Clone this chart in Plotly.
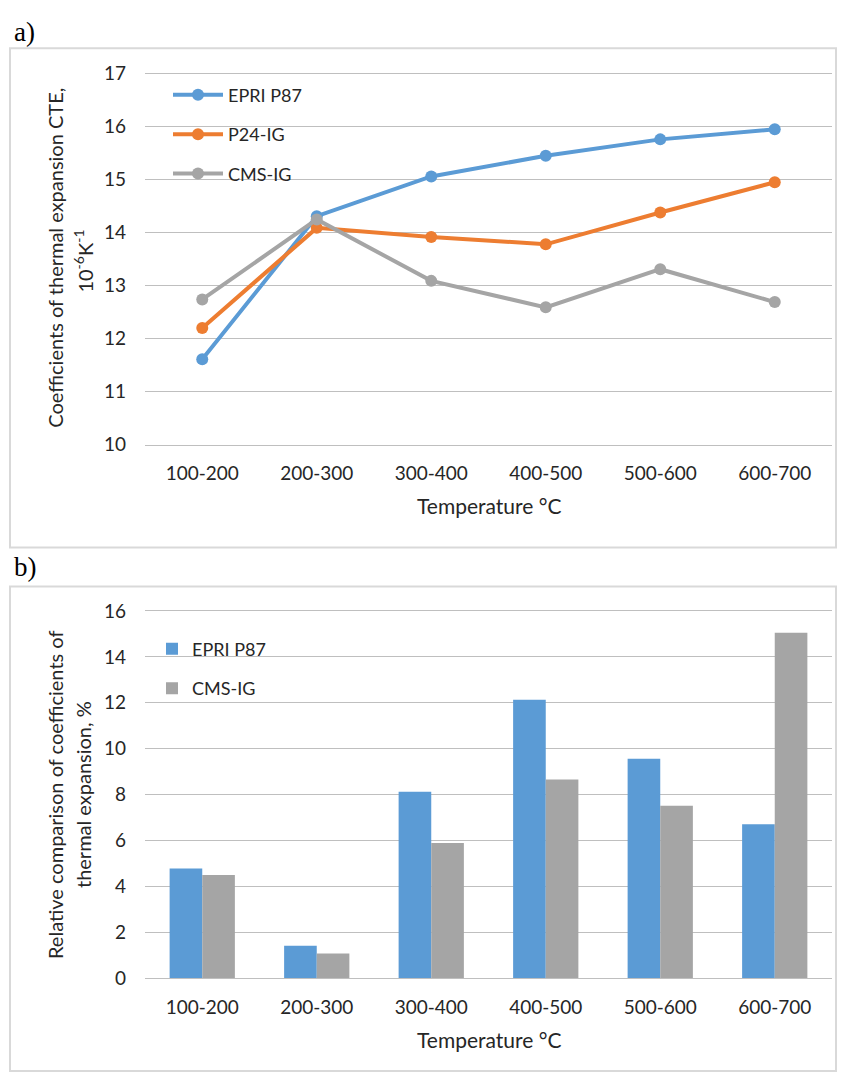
import plotly.graph_objects as go

categories = ["100-200", "200-300", "300-400", "400-500", "500-600", "600-700"]

# Panel a: coefficients of thermal expansion (10^-6 K^-1)
cte_epri_p87 = [11.61, 14.31, 15.06, 15.45, 15.76, 15.95]
cte_p24_ig = [12.20, 14.09, 13.92, 13.78, 14.38, 14.95]
cte_cms_ig = [12.74, 14.25, 13.09, 12.59, 13.31, 12.69]

# Panel b: relative comparison (%)
rel_epri_p87 = [4.78, 1.41, 8.12, 12.13, 9.56, 6.70]
rel_cms_ig = [4.49, 1.07, 5.89, 8.65, 7.51, 15.05]

W, H = 846, 1084
FONT = "Lato"
TXT = "#262626"
BLUE = "#5B9BD5"
ORANGE = "#ED7D31"
GRAY = "#A5A5A5"
GRID = "#BFBFBF"


def px(x):
    return x / W


def py(y):
    return 1 - y / H


fig = go.Figure()

for name, vals, col in [("EPRI P87", cte_epri_p87, BLUE),
                        ("P24-IG", cte_p24_ig, ORANGE),
                        ("CMS-IG", cte_cms_ig, GRAY)]:
    fig.add_trace(go.Scatter(
        x=categories, y=vals, name=name, mode="lines+markers",
        line=dict(color=col, width=4), marker=dict(color=col, size=12),
        xaxis="x", yaxis="y", legend="legend", legendgroup=name,
    ))

for name, vals, col in [("EPRI P87", rel_epri_p87, BLUE),
                        ("CMS-IG", rel_cms_ig, GRAY)]:
    fig.add_trace(go.Bar(
        x=categories, y=vals, name=name, marker=dict(color=col, line=dict(width=0)),
        xaxis="x2", yaxis="y2", legend="legend2", legendgroup=name + "b",
    ))

xdom = [px(145), px(832)]
tickfont = dict(family=FONT, size=19, color=TXT)

fig.update_layout(
    width=W, height=H,
    margin=dict(l=0, r=0, t=0, b=0),
    paper_bgcolor="white", plot_bgcolor="white",
    font=dict(family=FONT, size=18, color=TXT),
    barmode="group", bargap=0.43, bargroupgap=0,
    xaxis=dict(domain=xdom, anchor="y", range=[-0.5, 5.5], showgrid=False,
               showline=True, mirror=True, linecolor=GRID, linewidth=1,
               zeroline=False, ticks="", tickfont=tickfont, ticklabelstandoff=12),
    yaxis=dict(domain=[py(442), py(63)], anchor="x", range=[10, 17], dtick=1,
               showgrid=True, gridcolor=GRID, gridwidth=1, showline=False,
               zeroline=False, ticks="", tickfont=tickfont, ticklabelstandoff=18),
    xaxis2=dict(domain=xdom, anchor="y2", range=[-0.5, 5.5], showgrid=False,
                showline=True, mirror=True, linecolor=GRID, linewidth=1,
                zeroline=False, ticks="", tickfont=tickfont, ticklabelstandoff=12),
    yaxis2=dict(domain=[py(987), py(612)], anchor="x2", range=[0, 16], dtick=2,
                showgrid=True, gridcolor=GRID, gridwidth=1, showline=False,
                zeroline=False, ticks="", tickfont=tickfont, ticklabelstandoff=18),
    legend=dict(x=px(168), y=py(66), xanchor="left", yanchor="top",
                bgcolor="rgba(0,0,0,0)", font=dict(family=FONT, size=18, color=TXT),
                tracegroupgap=13, itemwidth=50),
    legend2=dict(x=px(152), y=py(632), xanchor="left", yanchor="top",
                 bgcolor="rgba(0,0,0,0)", font=dict(family=FONT, size=18, color=TXT),
                 tracegroupgap=13),
    shapes=[
        dict(type="rect", xref="paper", yref="paper", x0=px(10), x1=px(836),
             y0=py(547), y1=py(37), line=dict(color="#D9D9D9", width=2)),
        dict(type="rect", xref="paper", yref="paper", x0=px(10), x1=px(836),
             y0=py(1082), y1=py(587), line=dict(color="#D9D9D9", width=2)),
    ],
)

ann = [
    dict(text="a)", x=px(12), y=py(20), xanchor="left", yanchor="middle",
         font=dict(family="Liberation Serif", size=27, color="black")),
    dict(text="b)", x=px(12), y=py(567), xanchor="left", yanchor="middle",
         font=dict(family="Liberation Serif", size=27, color="black")),
    dict(text="Coefficients of thermal expansion CTE,", x=px(55), y=py(251),
         textangle=-90, xanchor="center", yanchor="middle"),
    dict(text="10<sup>-6</sup>K<sup>-1</sup>", x=px(83), y=py(255),
         textangle=-90, xanchor="center", yanchor="middle"),
    dict(text="Temperature °C", x=px(489), y=py(504), xanchor="center", yanchor="middle",
         font=dict(family=FONT, size=21, color=TXT)),
    dict(text="Relative comparison of coefficients of", x=px(55), y=py(800),
         textangle=-90, xanchor="center", yanchor="middle"),
    dict(text="thermal expansion, %", x=px(83), y=py(800),
         textangle=-90, xanchor="center", yanchor="middle"),
    dict(text="Temperature °C", x=px(489), y=py(1050), xanchor="center", yanchor="middle",
         font=dict(family=FONT, size=21, color=TXT)),
]
for a in ann:
    a.setdefault("xref", "paper")
    a.setdefault("yref", "paper")
    a.setdefault("showarrow", False)
    a.setdefault("font", dict(family=FONT, size=20, color=TXT))
fig.update_layout(annotations=ann)

fig.write_html("out.html")
